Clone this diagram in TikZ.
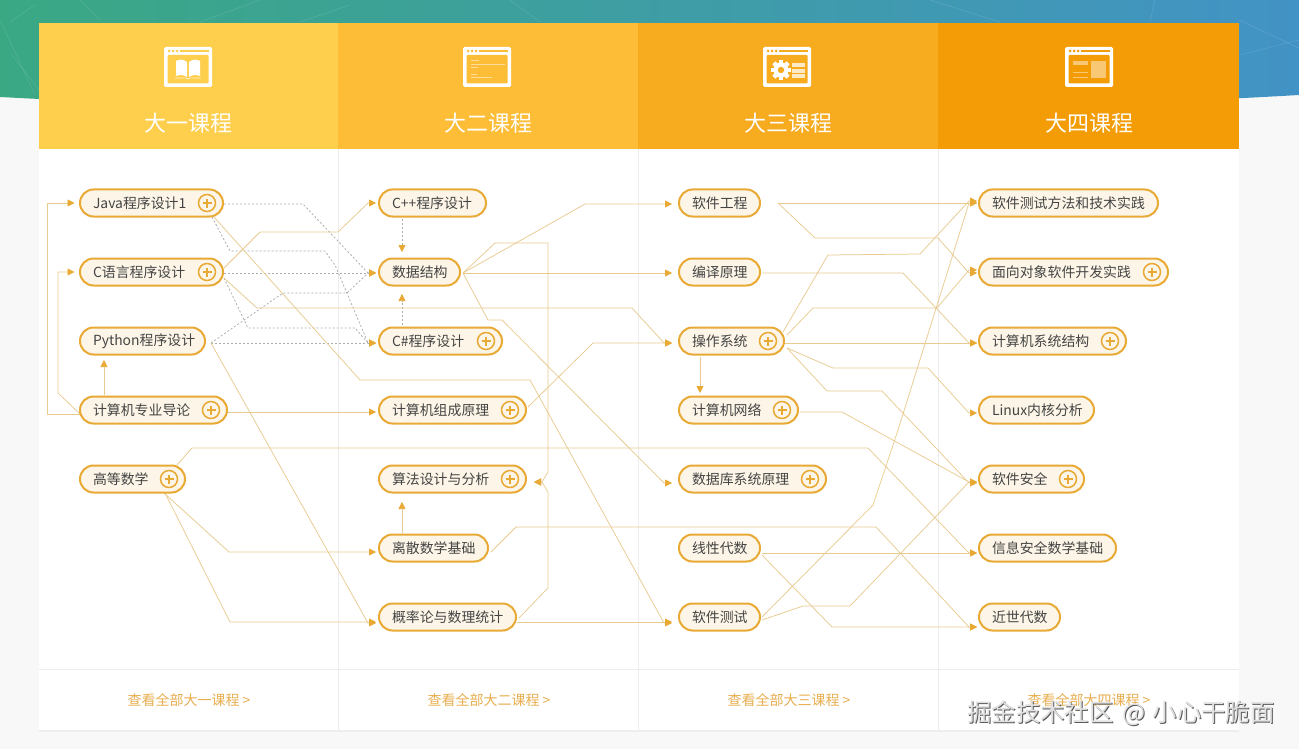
\documentclass[tikz,border=0pt]{standalone}
\usepackage{fontspec}
\setmainfont{Noto Sans CJK SC}
\usetikzlibrary{arrows.meta,calc}
\pgfdeclarelayer{back}
\pgfdeclarelayer{links}
\pgfsetlayers{back,links,main}
\definecolor{pagec}{HTML}{F8F8F8}
\definecolor{linec}{HTML}{E9CB90}
\definecolor{dashc}{HTML}{ABABAB}
\definecolor{tipc}{HTML}{E8A935}
\definecolor{pillc}{HTML}{FDF6E8}
\definecolor{sepc}{HTML}{EDEDED}
\definecolor{hA}{HTML}{FECF4D}
\definecolor{hB}{HTML}{FDBD36}
\definecolor{hC}{HTML}{F7AB1F}
\definecolor{hD}{HTML}{F39C05}
\definecolor{txtc}{HTML}{444444}
\definecolor{footc}{HTML}{E8AE50}
\definecolor{bgL}{RGB}{58,168,131}
\definecolor{bgM}{RGB}{68,155,160}
\definecolor{bgR}{RGB}{66,147,197}
\tikzset{
  course/.style={draw=tipc,line width=2pt,fill=pillc,rectangle,rounded corners=13.5pt,minimum height=27pt,inner xsep=13pt,inner ysep=0pt,outer sep=0pt,anchor=west,align=left,text=txtc,font=\fontsize{13.9}{16}\selectfont},
  plusring/.style={draw=tipc,line width=1.5pt,fill=pillc,circle,minimum size=17pt,inner sep=0pt,outer sep=0pt},
  plusbar/.style={draw=tipc,line width=1.5pt},
  conn/.style={draw=linec,line width=.75pt,line join=round,-{Triangle[length=7pt,width=7pt,color=tipc]},
    to path={-- ($(\tikztotarget)+(-8,0)$) -- (\tikztotarget)}},
  lconn/.style={conn,to path={-- ($(\tikztotarget)+(8,0)$) -- (\tikztotarget)}},
  dconn/.style={conn,draw=dashc,dash pattern=on 2pt off 2pt},
  headtext/.style={text=white,font=\fontsize{22}{26}\selectfont,inner sep=0pt},
  foottext/.style={text=footc,font=\fontsize{14}{16}\selectfont,inner sep=0pt},
  facet/.style={draw=white,line width=.6pt,opacity=.12},
  markfont/.style={inner sep=0pt,anchor=west,font=\fontsize{24.4}{28}\selectfont},
}
\newcommand\course[5]{%
  \pgfmathsetmacro\cw{#3-#2-2}%
  \node[course,minimum width=\cw pt,text width=\cw pt-26pt] (#1) at (#2+1,#4) {\mbox{#5}};}
\newcommand\coursep[6]{%
  \course{#1}{#2}{#3}{#4}{#5}%
  \node[plusring] (p#1) at (#6,#4) {};
  \draw[plusbar] ([xshift=-4.5pt]p#1.center) -- ([xshift=4.5pt]p#1.center);
  \draw[plusbar] ([yshift=-4.5pt]p#1.center) -- ([yshift=4.5pt]p#1.center);}
\newcommand\winicon[2]{%
  \fill[white,rounded corners=1.5pt] (#1-24,47) rectangle (#1+24,87);
  \fill[#2,rounded corners=1pt] (#1-20.5,55) rectangle (#1+20.5,83.5);
  \foreach \d in {-19,-15,-11} \fill[#2] (#1+\d,51) circle (1.5pt);
  \fill[#2] (#1-8,49.8) rectangle (#1+21,52.2);}
\begin{document}
\begin{tikzpicture}[x=1pt,y=-1pt]
\useasboundingbox (0,0) rectangle (1299,749);
% courses
\coursep{java}{79}{224}{203}{Java程序设计1}{207}
\coursep{clang}{79}{224}{272}{C语言程序设计}{207}
\course{python}{79}{206}{341}{Python程序设计}
\coursep{intro}{79}{228}{410}{计算机专业导论}{211}
\coursep{math}{79}{186}{479}{高等数学}{169}
\course{cpp}{378}{487}{203}{C++程序设计}
\course{ds}{378}{461}{272}{数据结构}
\coursep{csharp}{378}{503}{341}{C\#程序设计}{486}
\coursep{org}{378}{527}{410}{计算机组成原理}{510}
\coursep{algo}{378}{527}{479}{算法设计与分析}{510}
\course{disc}{378}{489}{548}{离散数学基础}
\course{prob}{378}{517}{617}{概率论与数理统计}
\course{se}{678}{761}{203}{软件工程}
\course{comp}{678}{761}{272}{编译原理}
\coursep{os}{678}{785}{341}{操作系统}{768}
\coursep{net}{678}{799}{410}{计算机网络}{782}
\coursep{db}{678}{827}{479}{数据库系统原理}{810}
\course{la}{678}{761}{548}{线性代数}
\course{st}{678}{761}{617}{软件测试}
\course{stm}{978}{1159}{203}{软件测试方法和技术实践}
\coursep{oo}{978}{1169}{272}{面向对象软件开发实践}{1152}
\coursep{arch}{978}{1127}{341}{计算机系统结构}{1110}
\course{linux}{978}{1095}{410}{Linux内核分析}
\coursep{sec}{978}{1085}{479}{软件安全}{1068}
\course{infomath}{978}{1117}{548}{信息安全数学基础}
\course{nt}{978}{1061}{617}{近世代数}
% background
\begin{pgfonlayer}{back}
\fill[pagec] (0,0) rectangle (1299,749);
\shade[left color=bgL,middle color=bgM,right color=bgR]
  (0,0) -- (0,97) .. controls (400,118) and (900,118) .. (1299,95) -- (1299,0) -- cycle;
\draw[facet] (0,20) -- (35,95);
\draw[facet] (12,55) -- (39,90);
\draw[facet] (10,22) -- (35,5);
\draw[facet] (80,0) -- (100,20);
\draw[facet] (200,22) -- (260,0);
\draw[facet] (300,22) -- (350,5);
\draw[facet] (510,0) -- (540,22);
\draw[facet] (930,0) -- (1000,22);
\draw[facet] (1239,55) -- (1299,40);
\draw[facet] (1239,20) -- (1299,48);
\draw[facet] (1150,22) -- (1155,0);
\fill[black,opacity=.04] (39,30) rectangle (1239,732);
\fill[white] (39,23) rectangle (1239,730);
\fill[hA] (39,23) rectangle (338,149);
\fill[hB] (338,23) rectangle (638,149);
\fill[hC] (638,23) rectangle (938,149);
\fill[hD] (938,23) rectangle (1239,149);
\foreach \x in {338,638,938} \draw[sepc,line width=.8pt] (\x,149) -- (\x,730);
\draw[sepc,line width=.8pt] (39,669.5) -- (1239,669.5);
% icons
\winicon{188}{hA}
\fill[white] (187,62) .. controls (183,59) and (179,59) .. (176,61) -- (176,76) .. controls (180,74) and (184,75) .. (187,77) -- cycle;
\fill[white] (189,62) .. controls (193,59) and (197,59) .. (200,61) -- (200,76) .. controls (196,74) and (192,75) .. (189,77) -- cycle;
\draw[white,opacity=.7,line width=.7pt] (175,78) -- (186,78) -- (188,79) -- (190,78) -- (201,78);
\winicon{487}{hB}
\foreach \a/\b/\c in {471/479/60,471/505/64,471/478/67,471/477/74,471/492/77} \draw[white,opacity=.5,line width=.9pt] (\a,\c) -- (\b,\c);
\winicon{787}{hC}
\foreach \r in {0,45,...,315} \fill[white,rotate around={\r:(781,70)}] (779,60) rectangle (783,80);
\fill[white] (781,70) circle (7.5pt);
\fill[hC] (781,70) circle (3.2pt);
\foreach \c in {65,71,76} \fill[white,opacity=.75] (792,\c-1.7) rectangle (805,\c+1.7);
\winicon{1089}{hD}
\fill[white,opacity=.45] (1073,61) rectangle (1088,65);
\fill[white,opacity=.45] (1091,61) rectangle (1106,78);
\foreach \c in {72,77} \draw[white,opacity=.45,line width=.8pt] (1073,\c) -- (1088,\c);
\end{pgfonlayer}
% header + footer text
\node[headtext] (h1) at (188,123) {大一课程};
\node[headtext] (h2) at (488,123) {大二课程};
\node[headtext] (h3) at (788,123) {大三课程};
\node[headtext] (h4) at (1089,123) {大四课程};
\node[foottext] (f1) at (189,700) {查看全部大一课程 >};
\node[foottext] (f2) at (489,700) {查看全部大二课程 >};
\node[foottext] (f3) at (789,700) {查看全部大三课程 >};
\node[foottext] (f4) at (1089,700) {查看全部大四课程 >};
\node[markfont,text=black!65] (wms) at (968,714) {掘金技术社区\hspace{9pt}@\hspace{7pt}小心干脆面};
\node[markfont,text=white!88!black] (wm) at (967,713) {掘金技术社区\hspace{9pt}@\hspace{7pt}小心干脆面};
% connectors
\begin{pgfonlayer}{links}
% dashed
\draw[dconn] ([shift={(1,1)}]java.east) -- (303,204) to ([shift={(-3,1)}]ds.west);
\draw[dconn] ([shift={(-11,14)}]java.east) -- (230,251) -- (325,251) -- (335,265) to ([shift={(-3,2)}]csharp.west);
\draw[dconn] ([shift={(1,1)}]clang.east) to ([shift={(-3,1)}]ds.west);
\draw[dconn] ([shift={(1,6)}]clang.east) -- (248,328) -- (355,328) to ([shift={(-3,2)}]csharp.west);
\draw[dconn] ([shift={(6,2)}]python.east) -- (283,293) -- (347,293) to ([shift={(-3,1)}]ds.west);
\draw[dconn] ([shift={(6,2)}]python.east) to ([shift={(-3,2)}]csharp.west);
\draw[dconn] ([shift={(23,16)}]cpp.west) -- ([shift={(23,-20)}]ds.west);
\draw[dconn] ([shift={(23,-16)}]csharp.west) -- ([shift={(23,22)}]ds.west);
% solid, first year
\draw[conn] ([shift={(-9,14)}]java.east) -- (360,380) -- (530,380) to ([shift={(-7,6)}]st.west);
\draw[conn] ([shift={(1,-4)}]clang.east) -- (260,232) -- (338,232) to ([shift={(-3,0)}]cpp.west);
\draw[conn] ([shift={(1,6)}]clang.east) -- (257,308) -- (632,308) to ([shift={(-7,2)}]os.west);
\draw[conn] ([shift={(0,4)}]intro.west) -- (47,414) -- (47,203) -- ([shift={(-5.5,0)}]java.west);
\draw[conn] ([shift={(0,4)}]intro.west) -- (58,393) -- (58,272) -- ([shift={(-5.5,0)}]clang.west);
\draw[conn] ([shift={(24,-15)}]intro.west) -- ([shift={(24,19)}]python.west);
\draw[conn] ([shift={(1,2)}]intro.east) -- ([shift={(-3,2)}]org.west);
\draw[conn] ([shift={(6,2)}]python.east) to ([shift={(-3,6)}]prob.west);
\draw[conn] ([shift={(-21,14)}]math.east) -- (229,552) -- ([shift={(-3,4)}]disc.west);
\draw[conn] ([shift={(-20,14)}]math.east) -- (230,622) -- ([shift={(-3,5)}]prob.west);
\draw[conn] ([shift={(-8,-14)}]math.east) -- (192,448) -- (868,448) to ([shift={(-2,5)}]infomath.west);
% second year
\draw[conn] ([shift={(23,-15)}]disc.west) -- ([shift={(23,23)}]algo.west);
\draw[conn] ([shift={(3,4)}]disc.east) -- (516,527) -- (876,527) to ([shift={(-2,10)}]nt.west);
\draw[conn] ([shift={(1,5)}]prob.east) -- ([shift={(-7,5)}]st.west);
\draw[lconn] ([shift={(3,1)}]prob.east) -- (548,588) -- (548,492) to ([shift={(8,3)}]algo.east);
\draw[lconn] ([shift={(3,1)}]ds.east) -- (495,243) -- (548,243) -- (548,472) to ([shift={(8,3)}]algo.east);
\draw[conn] ([shift={(3,1)}]ds.east) -- (585,204) -- ([shift={(-7,1)}]se.west);
\draw[conn] ([shift={(3,1)}]ds.east) -- ([shift={(-7,1)}]comp.west);
\draw[conn] ([shift={(3,1)}]ds.east) -- (488,320) -- (502,320) to ([shift={(-7,4)}]db.west);
\draw[conn] ([shift={(2,-3)}]org.east) -- (593,343) -- ([shift={(-7,2)}]os.west);
% third year
\draw[conn] ([shift={(18,0)}]se.east) -- ([shift={(-2,0)}]stm.west);
\draw[conn] ([shift={(18,0)}]se.east) -- (815,238) -- (938,238) to ([shift={(-2,1)}]oo.west);
\draw[conn] ([shift={(2,1)}]comp.east) -- (903,273) to ([shift={(-2,2)}]arch.west);
\draw[conn] ([shift={(-1,-9)}]os.east) -- (828,255) -- (920,254) to ([shift={(-2,-2)}]stm.west);
\draw[conn] ([shift={(3,-6)}]os.east) -- (813,308) -- (937,308) to ([shift={(-2,-2)}]oo.west);
\draw[conn] ([shift={(1,2)}]os.east) -- ([shift={(-2,2)}]arch.west);
\draw[conn] ([shift={(3,7)}]os.east) -- (833,368) -- (928,368) to ([shift={(-2,3)}]linux.west);
\draw[conn] ([shift={(3,7)}]os.east) -- (827,391) -- (882,391) to ([shift={(-2,4)}]sec.west);
\draw[conn] ([shift={(21,16)}]os.west) -- ([shift={(21,-17)}]net.west);
\draw[conn] ([shift={(2,2)}]net.east) -- (842,412) to ([shift={(-2,3)}]sec.west);
\draw[conn] ([shift={(2,0)}]st.east) -- (873,505) -- (898,430) to ([shift={(-2,0)}]stm.west);
\draw[conn] ([shift={(2,3)}]st.east) -- (803,606) -- (850,606) to ([shift={(-2,3)}]sec.west);
\draw[conn] ([shift={(2,5)}]la.east) -- ([shift={(-2,5)}]infomath.west);
\draw[conn] ([shift={(2,7)}]la.east) -- (832,627) -- ([shift={(-2,10)}]nt.west);
\end{pgfonlayer}
\end{tikzpicture}
\end{document}
